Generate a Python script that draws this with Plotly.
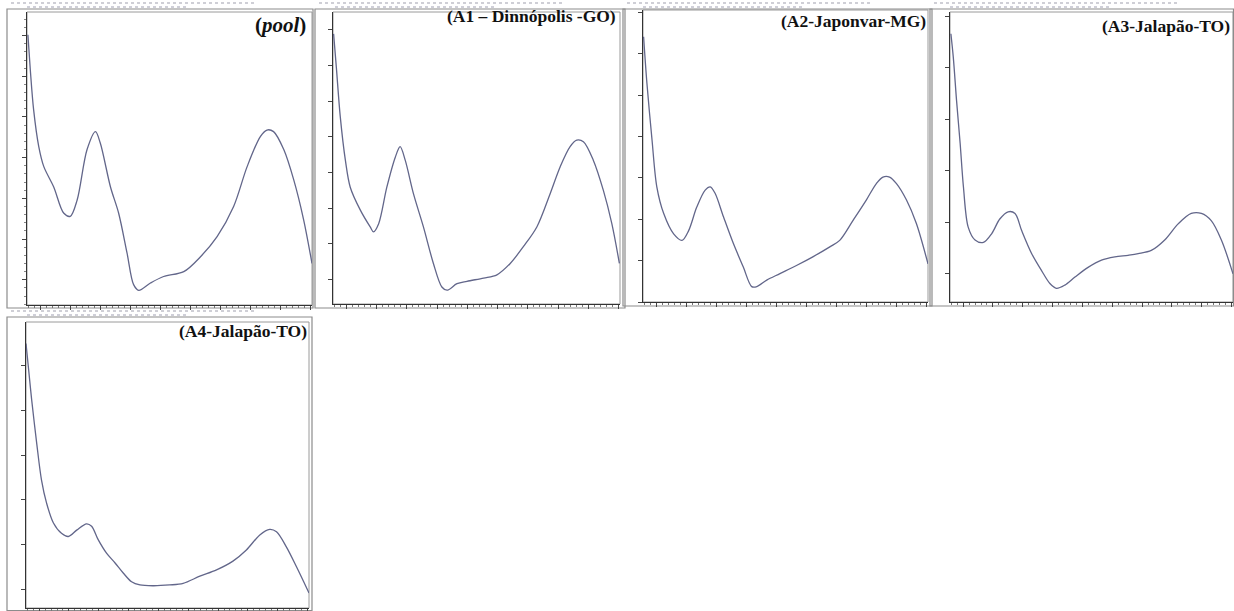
import plotly.graph_objects as go

W, H = 1234, 611

# ---- data (wavelength nm, absorbance) ----
labels = ["(<i>pool</i>)", "(A1 – Dinnópolis -GO)", "(A2-Japonvar-MG)",
          "(A3-Jalapão-TO)", "(A4-Jalapão-TO)"]

pool_x = [159, 167, 178, 195, 212, 245, 278, 300, 323, 356, 384, 400, 434, 461, 489, 511, 528,
          567, 611, 678, 733, 789, 844, 889, 933, 955, 977, 1011, 1044, 1077, 1105]
pool_y = [3.32, 2.89, 2.40, 1.95, 1.70, 1.45, 1.13, 1.09, 1.29, 1.91, 2.13, 1.99, 1.45, 1.13, 0.64,
          0.25, 0.18, 0.27, 0.35, 0.41, 0.59, 0.84, 1.21, 1.70, 2.07, 2.15, 2.13, 1.91, 1.54, 1.05, 0.51]

a1_x = [158, 167, 180, 197, 213, 246, 279, 290, 307, 334, 362, 378, 395, 422, 455, 488, 516, 533,
        566, 599, 654, 698, 742, 786, 830, 874, 907, 940, 962, 984, 1017, 1050, 1078, 1103]
a1_y = [3.33, 2.92, 2.31, 1.77, 1.44, 1.16, 0.95, 0.89, 0.99, 1.44, 1.81, 1.94, 1.77, 1.36, 0.95,
        0.50, 0.21, 0.17, 0.25, 0.28, 0.32, 0.36, 0.50, 0.71, 0.95, 1.36, 1.69, 1.94, 2.02, 2.00,
        1.77, 1.40, 0.99, 0.50]

a2_x = [158, 169, 186, 202, 225, 258, 286, 308, 335, 363, 380, 396, 424, 457, 490, 518, 535, 568,
        612, 667, 723, 778, 811, 856, 900, 933, 955, 977, 1000, 1033, 1066, 1105]
a2_y = [3.27, 2.70, 2.00, 1.42, 1.09, 0.84, 0.76, 0.88, 1.17, 1.38, 1.42, 1.34, 1.05, 0.72, 0.43,
        0.19, 0.19, 0.27, 0.35, 0.45, 0.56, 0.68, 0.76, 1.01, 1.26, 1.46, 1.54, 1.54, 1.46, 1.26,
        0.97, 0.47]

a3_x = [159, 167, 178, 190, 201, 217, 240, 268, 296, 323, 351, 374, 396, 430, 463, 491, 513, 541,
        575, 619, 664, 709, 753, 787, 831, 876, 921, 965, 999, 1032, 1066, 1105]
a3_y = [3.33, 3.04, 2.50, 1.97, 1.43, 0.93, 0.77, 0.74, 0.85, 1.03, 1.12, 1.10, 0.89, 0.60, 0.39,
        0.23, 0.17, 0.21, 0.31, 0.43, 0.52, 0.56, 0.58, 0.60, 0.64, 0.77, 0.97, 1.10, 1.10, 1.01,
        0.77, 0.35]

a4_x = [156, 164, 175, 192, 208, 225, 248, 275, 298, 326, 359, 376, 398, 426, 454, 482, 510, 538,
        582, 638, 683, 739, 795, 850, 895, 940, 973, 996, 1029, 1063, 1105]
a4_y = [3.33, 3.03, 2.62, 2.07, 1.61, 1.32, 1.07, 0.94, 0.90, 0.98, 1.06, 1.03, 0.86, 0.69, 0.57,
        0.44, 0.33, 0.29, 0.28, 0.29, 0.31, 0.40, 0.48, 0.59, 0.73, 0.92, 0.99, 0.96, 0.77, 0.52,
        0.19]

series_x = [pool_x, a1_x, a2_x, a3_x, a4_x]
series_y = [pool_y, a1_y, a2_y, a3_y, a4_y]

# y tick start / step per panel (absorbance)
ytick0 = [0.31, 0.30, 0.51, 0.35, 0.23]
ydtick = [0.50, 0.44, 0.51, 0.64, 0.565]

# ---- layout geometry (pixels) ----
# plot areas: x0, x1, y0(top), y1(bottom)
areas = [(27, 312, 12, 305), (333, 620, 12, 304), (643, 928, 10, 302),
         (950, 1233, 12, 302), (26, 309, 322, 608)]
# outer window frames
frames = [(7, 313, 9, 308), (315, 625, 9, 308), (623, 932, 9, 306),
          (930, 1233.5, 9, 306), (7, 312, 317, 610.5)]
# label anchor (right x, center y)
lab_pos = [(308, 25), (618, 16), (928, 21), (1232, 26), (309, 331)]
lab_size = [21, 17.5, 17.5, 17.5, 17.5]

XR = [156, 1105]
YR = [0, 3.6]

fig = go.Figure()
shapes = []
annotations = []

def px(x):
    return x / W

def py(y):
    return 1 - y / H

for i in range(5):
    sfx = "" if i == 0 else str(i + 1)
    x0, x1, y0, y1 = areas[i]
    fig.add_trace(go.Scatter(
        x=series_x[i], y=series_y[i], mode="lines",
        line=dict(color="#62668a", width=1.3, shape="spline", smoothing=0.9),
        xaxis="x" + sfx, yaxis="y" + sfx, showlegend=False, hoverinfo="skip"))
    fig.layout["xaxis" + sfx] = dict(
        domain=[px(x0), px(x1)], range=XR, anchor="y" + sfx, automargin=False,
        showgrid=False, zeroline=False, showticklabels=False,
        showline=True, linecolor="#333", linewidth=1, mirror=False,
        ticks="outside", ticklen=4, tickcolor="#444", tickmode="linear",
        tick0=200, dtick=100,
        minor=dict(ticks="outside", ticklen=2, tickcolor="#777", dtick=20, showgrid=False),
        fixedrange=True)
    fig.layout["yaxis" + sfx] = dict(
        domain=[py(y1), py(y0)], range=YR, anchor="x" + sfx, automargin=False,
        showgrid=False, zeroline=False, showticklabels=False,
        showline=True, linecolor="#333", linewidth=1.2,
        ticks="outside", ticklen=4, tickcolor="#444", tickmode="linear",
        tick0=ytick0[i], dtick=ydtick[i],
        minor=dict(ticks="outside", ticklen=2, tickcolor="#888", showgrid=False),
        fixedrange=True)
    # plot area top/right border
    shapes.append(dict(type="rect", xref="paper", yref="paper",
                       x0=px(x0), x1=px(x1), y0=py(y1), y1=py(y0),
                       line=dict(color="#9a9a9a", width=1), layer="below"))
    # outer window frame
    fx0, fx1, fy0, fy1 = frames[i]
    shapes.append(dict(type="rect", xref="paper", yref="paper",
                       x0=px(fx0), x1=px(fx1), y0=py(fy1), y1=py(fy0),
                       line=dict(color="#8c8c8c", width=1.2), layer="below"))
    # faint header lines (blurred window caption)
    shapes.append(dict(type="line", xref="paper", yref="paper",
                       x0=px(fx0 + 4), x1=px(fx0 + 250), y0=py(fy0 - 6), y1=py(fy0 - 6),
                       line=dict(color="#cfcfd6", width=2, dash="dot"), layer="below"))
    shapes.append(dict(type="line", xref="paper", yref="paper",
                       x0=px(fx0 + 20), x1=px(fx0 + 180), y0=py(fy0 - 2), y1=py(fy0 - 2),
                       line=dict(color="#c0c0cc", width=1.5, dash="dot"), layer="below"))
    lx, ly = lab_pos[i]
    annotations.append(dict(
        text="<b>" + labels[i] + "</b>", xref="paper", yref="paper",
        x=px(lx), y=py(ly), xanchor="right", yanchor="middle", showarrow=False,
        font=dict(family="Times New Roman, Liberation Serif, serif",
                  size=lab_size[i], color="#111")))

fig.update_layout(
    width=W, height=H, margin=dict(l=0, r=0, t=0, b=0),
    paper_bgcolor="white", plot_bgcolor="white",
    shapes=shapes, annotations=annotations, showlegend=False)

fig.write_html(
    "out.html",
    config={"displayModeBar": False, "staticPlot": True},
    post_script="document.body.style.margin='0';document.body.style.overflow='hidden';")
